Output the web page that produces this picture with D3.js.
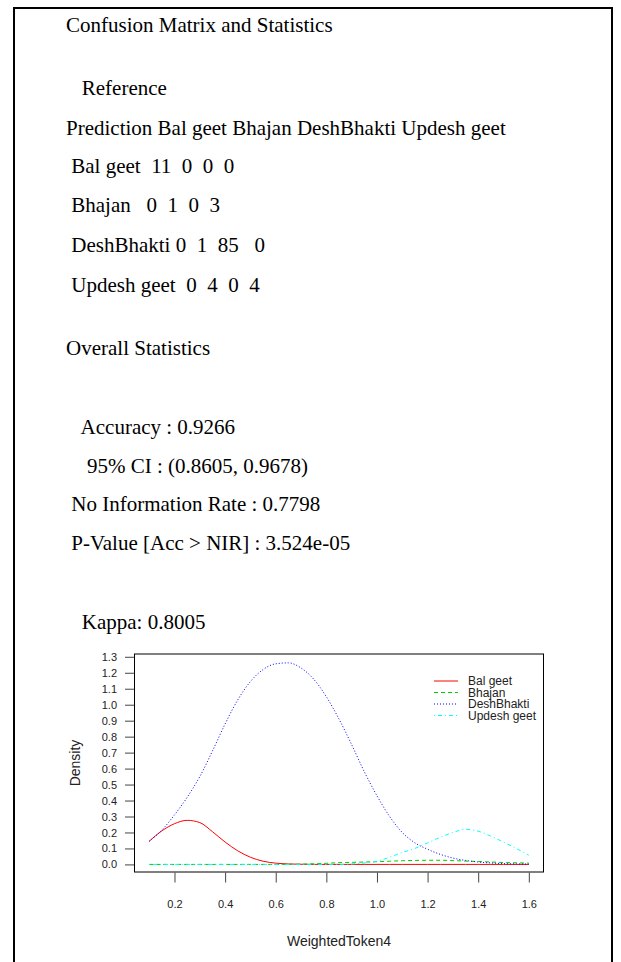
<!DOCTYPE html>
<html><head><meta charset="utf-8">
<script src="https://cdn.jsdelivr.net/npm/d3@7"></script>
<style>
html,body{margin:0;padding:0;background:#fff;}
svg{display:block;}
.doc{font-family:"Liberation Serif","Times New Roman",serif;font-size:21px;fill:#000;white-space:pre;}
.ax text{font-family:"Liberation Sans",Arial,sans-serif;}
</style></head><body>
<svg id="c" width="621" height="962"></svg>
<script>
// ---- report text ----
const reportLines = [
  "Confusion Matrix and Statistics",
  "   Reference",
  "Prediction Bal geet Bhajan DeshBhakti Updesh geet",
  " Bal geet  11  0  0  0",
  " Bhajan   0  1  0  3",
  " DeshBhakti 0  1  85   0",
  " Updesh geet  0  4  0  4",
  "Overall Statistics",
  "   Accuracy : 0.9266",
  "    95% CI : (0.8605, 0.9678)",
  " No Information Rate : 0.7798",
  " P-Value [Acc > NIR] : 3.524e-05",
  "   Kappa: 0.8005"
];
// ---- chart data ----
const categories = ["Bal geet", "Bhajan", "DeshBhakti", "Updesh geet"];
const xValues = [0.10,0.15,0.20,0.25,0.30,0.35,0.40,0.45,0.50,0.55,0.60,0.65,0.70,0.75,0.80,0.85,0.90,0.95,1.00,1.05,1.10,1.15,1.20,1.25,1.30,1.35,1.40,1.45,1.50,1.55,1.60];
const balGeet = [0.145,0.21,0.255,0.276,0.262,0.205,0.14,0.085,0.045,0.02,0.008,0.003,0.001,0,0,0,0,0,0,0,0,0,0,0,0,0,0,0,0,0,0];
const bhajan = [0,0,0,0,0,0,0,0,0,0,0,0.001,0.002,0.004,0.007,0.011,0.013,0.015,0.017,0.02,0.023,0.025,0.026,0.026,0.024,0.021,0.018,0.015,0.012,0.01,0.008];
const deshBhakti = [0.145,0.215,0.31,0.42,0.55,0.71,0.88,1.03,1.145,1.22,1.256,1.262,1.23,1.16,1.05,0.91,0.75,0.58,0.43,0.30,0.20,0.135,0.095,0.063,0.04,0.025,0.015,0.009,0.005,0.003,0.002];
const updeshGeet = [0,0,0,0,0,0,0,0,0,0,0,0,0,0,0,0,0.003,0.009,0.02,0.045,0.075,0.10,0.135,0.17,0.20,0.22,0.208,0.177,0.14,0.10,0.058];
const yTicks = [0.0,0.1,0.2,0.3,0.4,0.5,0.6,0.7,0.8,0.9,1.0,1.1,1.2,1.3];
const xTicks = [0.2,0.4,0.6,0.8,1.0,1.2,1.4,1.6];
const xTitle = "WeightedToken4";
const yTitle = "Density";

const seriesValues = [balGeet, bhajan, deshBhakti, updeshGeet];
const colors = ["#ff0000", "#00cd00", "#0000ff", "#00ffff"];
const dashes = [null, "4,3", "1,2", "1,3,4,3"];

const svg = d3.select("#c");

// frame
svg.append("path")
  .attr("d", "M14,962 V8 H612 V962")
  .attr("fill", "none").attr("stroke", "#000").attr("stroke-width", 2);

// report text
const lineY = [32, 95, 135, 173, 212, 252, 292, 355, 434, 473, 511, 550, 629];
svg.append("g").selectAll("text").data(reportLines).join("text")
  .attr("class", "doc")
  .attr("x", 66)
  .attr("y", (d, i) => lineY[i])
  .text(d => d);

// chart
const L = 134, R = 544, T = 653.5, B = 872.5;
const x = d3.scaleLinear().domain([0.04, 1.66]).range([L, R]);
const y = d3.scaleLinear().domain([-0.0506, 1.3206]).range([B, T]);

const line = d3.line().x((d, i) => x(xValues[i])).y(d => y(d)).curve(d3.curveMonotoneX);

const lineG = svg.append("g");
seriesValues.forEach((vals, k) => {
  lineG.append("path")
    .datum(vals)
    .attr("d", line)
    .attr("fill", "none")
    .attr("stroke", colors[k])
    .attr("stroke-width", 1)
    .attr("stroke-dasharray", dashes[k]);
});

// box
svg.append("rect")
  .attr("x", L + 0.5).attr("y", T + 0.5)
  .attr("width", R - L - 1).attr("height", B - T - 1)
  .attr("fill", "none").attr("stroke", "#000").attr("stroke-width", 1);

// y axis
const yAxis = d3.axisLeft(y).tickValues(yTicks).tickFormat(d3.format(".1f")).tickSize(9).tickPadding(8);
const gy = svg.append("g").attr("class", "ax").attr("transform", `translate(${L},0)`).call(yAxis);
gy.select(".domain").remove();
gy.selectAll("line").attr("stroke", "#444");
gy.selectAll("text").attr("font-size", 11).attr("fill", "#222");

// x axis
const xAxis = d3.axisBottom(x).tickValues(xTicks).tickFormat(d3.format(".1f")).tickSize(10).tickPadding(18);
const gx = svg.append("g").attr("class", "ax").attr("transform", `translate(0,${B})`).call(xAxis);
gx.select(".domain").remove();
gx.selectAll("line").attr("stroke", "#444");
gx.selectAll("text").attr("font-size", 11).attr("fill", "#222");

// titles
svg.append("text")
  .attr("x", (L + R) / 2).attr("y", 946)
  .attr("text-anchor", "middle")
  .style("font-family", "'Liberation Sans',Arial,sans-serif")
  .attr("font-size", 14).attr("fill", "#222")
  .text(xTitle);
svg.append("text")
  .attr("transform", `translate(80,${(T + B) / 2}) rotate(-90)`)
  .attr("text-anchor", "middle")
  .style("font-family", "'Liberation Sans',Arial,sans-serif")
  .attr("font-size", 14).attr("fill", "#222")
  .text(yTitle);

// legend
const lg = svg.append("g").attr("transform", "translate(434,681)");
categories.forEach((c, k) => {
  const row = lg.append("g").attr("transform", `translate(0,${k * 11.5})`);
  row.append("line").attr("x1", 0).attr("x2", 24).attr("y1", 0).attr("y2", 0)
    .attr("stroke", colors[k]).attr("stroke-width", 1).attr("stroke-dasharray", dashes[k]);
  row.append("text").attr("x", 34).attr("y", 4)
    .style("font-family", "'Liberation Sans',Arial,sans-serif")
    .attr("font-size", 12).attr("fill", "#222").text(c);
});
</script>
</body></html>
